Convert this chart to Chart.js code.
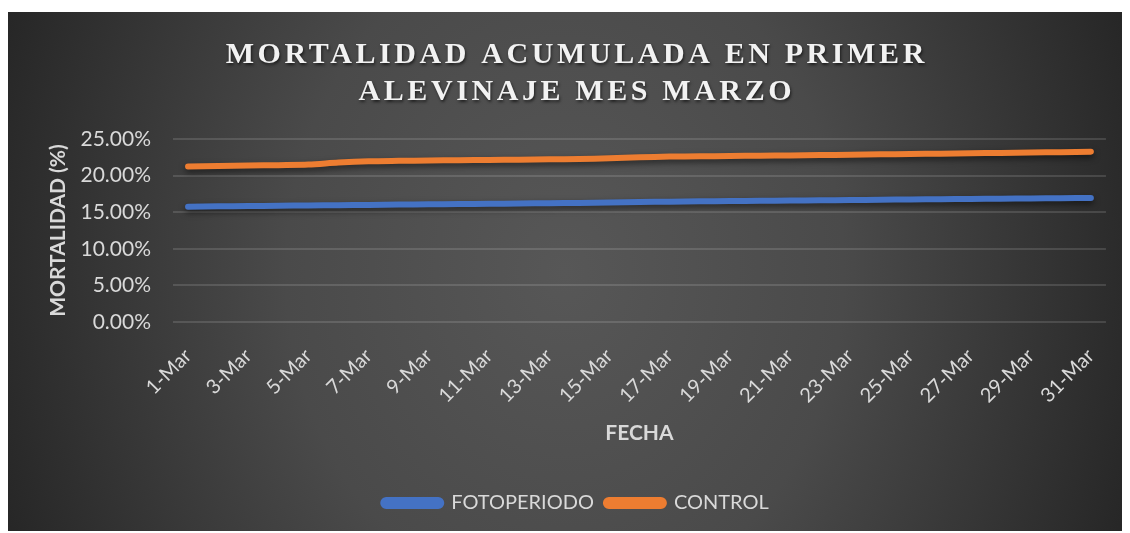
<!DOCTYPE html>
<html>
<head>
<meta charset="utf-8">
<script src="https://cdn.jsdelivr.net/npm/chart.js@4.4.1/dist/chart.umd.min.js"></script>
<style>
    body { margin: 0; background: #fff; }
    #marco { position: absolute; left: 8px; top: 12px; width: 1114px; height: 519px; }
</style>
</head>
<body>
<div id="marco"><canvas id="graficoMortalidad"></canvas></div>
<script>
// Datos
const fechas = ['1-Mar', '2-Mar', '3-Mar', '4-Mar', '5-Mar', '6-Mar', '7-Mar', '8-Mar', '9-Mar', '10-Mar',
    '11-Mar', '12-Mar', '13-Mar', '14-Mar', '15-Mar', '16-Mar', '17-Mar', '18-Mar', '19-Mar', '20-Mar',
    '21-Mar', '22-Mar', '23-Mar', '24-Mar', '25-Mar', '26-Mar', '27-Mar', '28-Mar', '29-Mar', '30-Mar', '31-Mar'];

const fotoperiodo = [0.1575, 0.1580, 0.1584, 0.1588, 0.1592, 0.1596, 0.1600, 0.1604, 0.1608, 0.1612,
    0.1615, 0.1619, 0.1623, 0.1627, 0.1631, 0.1640, 0.1644, 0.1648, 0.1652, 0.1655,
    0.1659, 0.1663, 0.1666, 0.1670, 0.1674, 0.1678, 0.1681, 0.1685, 0.1688, 0.1692, 0.1695];

const control = [0.2126, 0.2132, 0.2138, 0.2143, 0.2150, 0.2178, 0.2196, 0.2202, 0.2206, 0.2210,
    0.2214, 0.2218, 0.2222, 0.2226, 0.2236, 0.2250, 0.2260, 0.2264, 0.2268, 0.2272,
    0.2276, 0.2280, 0.2285, 0.2290, 0.2295, 0.2300, 0.2305, 0.2310, 0.2315, 0.2320, 0.2327];

const tituloLineas = ['MORTALIDAD ACUMULADA EN PRIMER', 'ALEVINAJE MES MARZO'];
const series = ['FOTOPERIODO', 'CONTROL'];
const colores = ['#4472C4', '#ED7D31'];

// Fondo oscuro con degradado radial
const fondoPlugin = {
    id: 'fondo',
    beforeDraw(chart) {
        const { ctx, width, height } = chart;
        ctx.save();
        const cx = width / 2, cy = height / 2;
        ctx.translate(cx, cy);
        ctx.scale(1, 1.2);
        const g = ctx.createRadialGradient(0, 0, 0, 0, 0, 620);
        g.addColorStop(0, '#575757');
        g.addColorStop(0.45, '#4a4a4a');
        g.addColorStop(1, '#242424');
        ctx.fillStyle = g;
        ctx.fillRect(-cx, -cy / 1.2, width, height / 1.2);
        ctx.restore();
    }
};

// Sombra bajo las líneas
const sombraPlugin = {
    id: 'sombra',
    beforeDatasetDraw(chart) {
        const ctx = chart.ctx;
        ctx.save();
        ctx.shadowColor = 'rgba(0, 0, 0, 0.55)';
        ctx.shadowBlur = 6;
        ctx.shadowOffsetY = 3;
    },
    afterDatasetDraw(chart) {
        chart.ctx.restore();
    }
};

// Título con espaciado entre letras
const tituloPlugin = {
    id: 'tituloEspaciado',
    afterDraw(chart) {
        const ctx = chart.ctx;
        ctx.save();
        ctx.font = 'bold 30px "Liberation Serif", "Times New Roman", serif';
        ctx.letterSpacing = '3.6px';
        ctx.fillStyle = '#f2f2f2';
        ctx.textAlign = 'left';
        ctx.textBaseline = 'alphabetic';
        ctx.shadowColor = 'rgba(0, 0, 0, 0.6)';
        ctx.shadowBlur = 3;
        ctx.shadowOffsetX = 1;
        ctx.shadowOffsetY = 2;
        const centro = 567;
        const bases = [51, 87.5];
        tituloLineas.forEach((linea, i) => {
            const ancho = ctx.measureText(linea).width - 3.6;
            ctx.fillText(linea, centro - ancho / 2, bases[i]);
        });
        ctx.restore();
    }
};

const ctx = document.getElementById('graficoMortalidad').getContext('2d');
new Chart(ctx, {
    type: 'line',
    data: {
        labels: fechas,
        datasets: [
            { label: series[0], data: fotoperiodo, borderColor: colores[0], backgroundColor: colores[0] },
            { label: series[1], data: control, borderColor: colores[1], backgroundColor: colores[1] }
        ]
    },
    options: {
        responsive: true,
        maintainAspectRatio: false,
        animation: false,
        layout: { padding: { top: 127, left: 30, right: 8, bottom: 8 } },
        elements: {
            line: { borderWidth: 6, borderCapStyle: 'round', borderJoinStyle: 'round', tension: 0.3 },
            point: { radius: 0, hoverRadius: 0 }
        },
        plugins: {
            legend: {
                position: 'bottom',
                labels: {
                    color: '#d9d9d9',
                    font: { family: 'Lato', size: 20 },
                    boxWidth: 58,
                    boxHeight: 6,
                    padding: 12,
                    useBorderRadius: true,
                    borderRadius: 3
                }
            },
            tooltip: { enabled: false }
        },
        scales: {
            x: {
                offset: true,
                grid: { display: false },
                border: { display: false },
                ticks: {
                    color: '#d9d9d9',
                    font: { family: 'Lato', size: 20 },
                    maxRotation: 45,
                    minRotation: 45,
                    autoSkip: false,
                    padding: 14,
                    callback: function(valor, indice) {
                        return indice % 2 === 0 ? this.getLabelForValue(valor) : '';
                    }
                },
                title: {
                    display: true,
                    text: 'FECHA',
                    color: '#d9d9d9',
                    font: { family: 'Lato', size: 21, weight: 'bold' },
                    padding: { top: 0, bottom: 35 }
                },
                afterFit(scale) { scale.height = 159; }
            },
            y: {
                min: 0,
                max: 0.25,
                grid: { color: 'rgba(255, 255, 255, 0.13)', lineWidth: 2, drawTicks: false },
                border: { display: false },
                ticks: {
                    stepSize: 0.05,
                    color: '#d9d9d9',
                    font: { family: 'Lato', size: 21 },
                    padding: 22,
                    callback: (v) => (v * 100).toFixed(2) + '%'
                },
                title: {
                    display: true,
                    text: 'MORTALIDAD (%)',
                    color: '#d9d9d9',
                    font: { family: 'Lato', size: 21, weight: 'bold' },
                    padding: { top: 8, bottom: 0 }
                },
                afterFit(scale) { scale.width = 165 - 30; }
            }
        }
    },
    plugins: [fondoPlugin, sombraPlugin, tituloPlugin]
});
</script>
</body>
</html>
